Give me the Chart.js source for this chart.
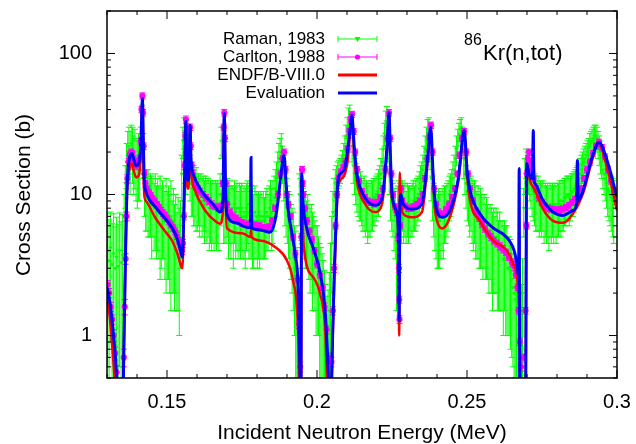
<!DOCTYPE html>
<html>
<head>
<meta charset="utf-8">
<script src="https://cdn.jsdelivr.net/npm/chart.js@4.4.0/dist/chart.umd.min.js"></script>
<style>
  html, body { margin: 0; padding: 0; background: #fff; }
</style>
</head>
<body>
<canvas id="xs" width="636" height="444"></canvas>
<script>
// 86Kr total cross section, 0.13 - 0.3 MeV

const xTicks = [0.15, 0.2, 0.25, 0.3];
const yTicks = [1, 10, 100];
const legendLabels = ["Raman, 1983", "Carlton, 1988", "ENDF/B-VIII.0", "Evaluation"];

// Evaluation (blue)
const evalE = [
  0.1300, 0.1310, 0.1320, 0.1328, 0.1334, 0.1338, 0.1352, 0.1357, 0.1362, 0.1366, 0.1370, 0.1376, 0.1383, 0.1390, 0.1397, 0.1405,
  0.1411, 0.1415, 0.1418, 0.1421, 0.1424, 0.1430, 0.1440, 0.1460, 0.1490, 0.1517, 0.1535, 0.1545, 0.1551, 0.1555, 0.1559, 0.1563,
  0.1566, 0.1570, 0.1574, 0.1577, 0.1580, 0.1590, 0.1610, 0.1627, 0.1660, 0.1677, 0.1686, 0.1691, 0.1695, 0.1700, 0.1730, 0.1760,
  0.1778, 0.1780, 0.1782, 0.1810, 0.1843, 0.1860, 0.1870, 0.1880, 0.1890, 0.1897, 0.1903, 0.1915, 0.1927, 0.1937, 0.1943, 0.1946,
  0.1949, 0.1953, 0.1967, 0.1987, 0.2010, 0.2027, 0.2037, 0.2042, 0.2048, 0.2052, 0.2058, 0.2065, 0.2070, 0.2080, 0.2093, 0.2103,
  0.2111, 0.2116, 0.2124, 0.2133, 0.2160, 0.2193, 0.2217, 0.2233, 0.2240, 0.2245, 0.2250, 0.2267, 0.2271, 0.2274, 0.2276, 0.2280,
  0.2287, 0.2317, 0.2350, 0.2367, 0.2379, 0.2387, 0.2393, 0.2417, 0.2443, 0.2470, 0.2491, 0.2500, 0.2510, 0.2543, 0.2587, 0.2633,
  0.2660, 0.2668, 0.2672, 0.2674, 0.2676, 0.2695, 0.2699, 0.2707, 0.2714, 0.2718, 0.2721, 0.2723, 0.2727, 0.2753, 0.2787, 0.2820,
  0.2853, 0.2865, 0.2868, 0.2871, 0.2887, 0.2917, 0.2940, 0.2967, 0.3000
];
const evalXS = [
  2.2, 1.7, 1.1, 0.7, 0.45, 0.3, 0.3, 1.0, 4, 10, 15, 18.5, 19.5, 17.5, 16, 16.5,
  20, 32, 48, 25, 13, 10.5, 9.3, 8.2, 6.9, 5.8, 4.8, 4.0, 3.6, 6, 15, 33,
  15, 12.6, 16, 31, 18, 13.5, 11, 9.8, 8.2, 7.5, 9, 37.5, 12, 7.2, 6.3, 5.9,
  5.8, 18.3, 5.8, 5.6, 5.4, 6.5, 9, 14, 18.9, 12, 8.1, 5.5, 3.8, 2.2, 0.59, 0.3,
  14.1, 9, 5.6, 4.2, 2.8, 1.5, 0.6, 0.3, 0.4, 1.0, 3, 8, 12.6, 14.2, 15.5, 21.6,
  30, 36.5, 22, 14.1, 9.5, 8.4, 9.5, 21.6, 38, 18, 10.2, 7.3, 5.5, 1.28, 8, 10,
  8.6, 7.9, 8.6, 16.6, 30, 14, 9.1, 6.9, 7.7, 12.6, 28.4, 15, 10.7, 7.3, 5.8, 4.95,
  3.8, 3.0, 2.6, 15.3, 0.3, 0.3, 16.6, 14, 13, 13.5, 28.4, 13, 11.9, 9.1, 7.5, 7.1,
  7.7, 8.5, 17.4, 9, 10.7, 18.3, 23.4, 17.4, 9.5
];

// ENDF/B-VIII.0 (red)
const endfE = [
  0.1300, 0.1310, 0.1318, 0.1325, 0.1330, 0.1352, 0.1357, 0.1362, 0.1366, 0.1370, 0.1376, 0.1383, 0.1390, 0.1397, 0.1405, 0.1411,
  0.1415, 0.1418, 0.1421, 0.1424, 0.1430, 0.1460, 0.1490, 0.1517, 0.1535, 0.1545, 0.1551, 0.1555, 0.1559, 0.1563, 0.1566, 0.1570,
  0.1574, 0.1577, 0.1580, 0.1593, 0.1627, 0.1660, 0.1677, 0.1686, 0.1691, 0.1695, 0.1700, 0.1753, 0.1778, 0.1780, 0.1782, 0.1810,
  0.1867, 0.1900, 0.1920, 0.1937, 0.1942, 0.1947, 0.1949, 0.1955, 0.1987, 0.2010, 0.2027, 0.2035, 0.2040, 0.2047, 0.2052, 0.2058,
  0.2065, 0.2070, 0.2080, 0.2093, 0.2103, 0.2116, 0.2124, 0.2133, 0.2160, 0.2193, 0.2217, 0.2233, 0.2240, 0.2245, 0.2250, 0.2267,
  0.2271, 0.2274, 0.2276, 0.2280, 0.2287, 0.2317, 0.2350, 0.2367, 0.2379, 0.2387, 0.2393, 0.2400, 0.2417, 0.2443, 0.2470, 0.2491,
  0.2500, 0.2510, 0.2543, 0.2587, 0.2633, 0.2653, 0.2670, 0.2677, 0.2680, 0.2695, 0.2699, 0.2710, 0.2727, 0.2753, 0.2787, 0.2820,
  0.2853, 0.2887, 0.2917, 0.2937, 0.2967, 0.3000
];
const endfXS = [
  1.86, 1.3, 0.8, 0.5, 0.3, 0.3, 1.0, 4, 9, 13, 15.5, 16.6, 14.5, 13.2, 13.5, 17,
  30, 46, 20, 10, 9.0, 6.9, 5.6, 4.7, 3.8, 3.2, 3.0, 5, 14, 33, 13, 11,
  14, 31, 16, 10.7, 7.7, 6.5, 6.2, 7.5, 37, 10, 5.75, 5.3, 5.0, 5.6, 5.0, 4.72,
  4.14, 3.4, 2.45, 1.08, 0.3, 0.3, 13, 4.5, 2.6, 1.98, 1.14, 0.4, 0.3, 0.35, 0.9, 2.6,
  7, 11.2, 12.8, 14, 18, 34.5, 20, 12.5, 8.6, 7.5, 8.6, 20, 36, 16, 9.5, 7.0,
  5, 1.0, 14.3, 9, 7.3, 6.9, 7.5, 15.5, 28.4, 13, 8, 6.5, 5.75, 6.9, 12, 27,
  14, 9.1, 6.5, 4.72, 4.0, 3.24, 2.2, 0.8, 0.3, 0.3, 16.6, 12.5, 10.7, 7.9, 6.5, 6.3,
  7.3, 10.2, 17.5, 23.4, 15.5, 7.7
];

// Raman, 1983 (green, with errors)
const ramanE = [
  0.1302, 0.1307, 0.1312, 0.1317, 0.1322, 0.1327, 0.1332, 0.1337, 0.1342, 0.1347, 0.1352,
  0.1357, 0.1361, 0.1365, 0.1369, 0.1373, 0.1377, 0.1381, 0.1385, 0.1389, 0.1393, 0.1397, 0.1401, 0.1405, 0.1409, 0.1413, 0.1417, 0.1421,
  0.1425, 0.1429, 0.1433, 0.1437, 0.1441, 0.1445, 0.1449, 0.1453, 0.1457, 0.1461, 0.1465, 0.1469, 0.1473, 0.1477, 0.1481, 0.1485,
  0.1489, 0.1493, 0.1497, 0.1501, 0.1505, 0.1509, 0.1513, 0.1517, 0.1521, 0.1525, 0.1529, 0.1533, 0.1537, 0.1541, 0.1545, 0.1549,
  0.1553, 0.1557, 0.1560, 0.1563, 0.1567, 0.1570, 0.1574, 0.1577, 0.1581, 0.1585,
  0.1589, 0.1593, 0.1597, 0.1601, 0.1605, 0.1609, 0.1613, 0.1617, 0.1621, 0.1625, 0.1629, 0.1633, 0.1637, 0.1641,
  0.1645, 0.1649, 0.1653, 0.1657, 0.1661, 0.1665, 0.1669, 0.1673, 0.1677, 0.1681, 0.1685, 0.1689, 0.1693, 0.1697,
  0.1701, 0.1705, 0.1709, 0.1713, 0.1717, 0.1721, 0.1725, 0.1729, 0.1733, 0.1737, 0.1741, 0.1745, 0.1749, 0.1753, 0.1757, 0.1761,
  0.1765, 0.1769, 0.1773, 0.1777, 0.1781, 0.1785, 0.1789, 0.1793, 0.1797, 0.1801, 0.1805, 0.1809, 0.1813, 0.1817, 0.1821, 0.1825,
  0.1829, 0.1833, 0.1837, 0.1841, 0.1845, 0.1849, 0.1853,
  0.1857, 0.1861, 0.1865, 0.1869, 0.1873, 0.1877, 0.1881, 0.1885, 0.1889, 0.1893, 0.1897, 0.1901, 0.1905, 0.1909, 0.1913, 0.1917,
  0.1921, 0.1925, 0.1929, 0.1933, 0.1937, 0.1941, 0.1945, 0.1949, 0.1953, 0.1957,
  0.1961, 0.1965, 0.1969, 0.1973, 0.1977, 0.1981, 0.1985, 0.1989, 0.1993, 0.1997, 0.2001, 0.2005, 0.2009, 0.2013, 0.2017, 0.2021,
  0.2025, 0.2029, 0.2033, 0.2037, 0.2041, 0.2045, 0.2049, 0.2053, 0.2057, 0.2061, 0.2065, 0.2069,
  0.2073, 0.2077, 0.2081, 0.2085, 0.2089, 0.2093, 0.2097, 0.2101, 0.2105, 0.2109, 0.2113, 0.2117, 0.2121, 0.2125, 0.2129, 0.2133,
  0.2137, 0.2141, 0.2145, 0.2149, 0.2153, 0.2157, 0.2161, 0.2165, 0.2169, 0.2173, 0.2177, 0.2181, 0.2185, 0.2189, 0.2193, 0.2197,
  0.2201, 0.2205, 0.2209, 0.2213, 0.2217, 0.2221, 0.2225, 0.2229, 0.2233, 0.2237, 0.2241, 0.2245, 0.2249, 0.2253, 0.2257, 0.2261,
  0.2265, 0.2269, 0.2273, 0.2277, 0.2281,
  0.2285, 0.2289, 0.2293, 0.2297, 0.2301, 0.2305, 0.2309, 0.2313, 0.2317, 0.2321, 0.2325, 0.2329, 0.2333, 0.2337, 0.2341, 0.2345,
  0.2349, 0.2353,
  0.2357, 0.2361, 0.2365, 0.2369, 0.2373, 0.2377, 0.2381, 0.2385, 0.2389, 0.2393, 0.2397,
  0.2401, 0.2405, 0.2409, 0.2413, 0.2417, 0.2421, 0.2425, 0.2429, 0.2433, 0.2437, 0.2441, 0.2445, 0.2449, 0.2453, 0.2457, 0.2461,
  0.2465, 0.2469, 0.2473, 0.2477, 0.2481, 0.2485, 0.2489, 0.2493, 0.2497, 0.2501, 0.2505, 0.2509,
  0.2513, 0.2517, 0.2521, 0.2525, 0.2529, 0.2533, 0.2537, 0.2541, 0.2545, 0.2549, 0.2553, 0.2557, 0.2561, 0.2565, 0.2569, 0.2573,
  0.2577, 0.2581, 0.2585, 0.2589, 0.2593, 0.2597, 0.2601, 0.2605, 0.2609, 0.2613, 0.2617, 0.2621, 0.2625, 0.2629, 0.2633, 0.2637,
  0.2641, 0.2645, 0.2649, 0.2653, 0.2657, 0.2661, 0.2665, 0.2669, 0.2673, 0.2677, 0.2681, 0.2685, 0.2689, 0.2693, 0.2697,
  0.2701, 0.2705, 0.2709, 0.2713, 0.2717, 0.2721, 0.2725, 0.2729, 0.2733, 0.2737, 0.2741, 0.2745, 0.2749, 0.2753, 0.2757, 0.2761,
  0.2765, 0.2769, 0.2773, 0.2777, 0.2781, 0.2785, 0.2789, 0.2793, 0.2797, 0.2801, 0.2805, 0.2809, 0.2813, 0.2817, 0.2821, 0.2825,
  0.2829, 0.2833, 0.2837, 0.2841, 0.2845, 0.2849, 0.2853, 0.2857, 0.2861, 0.2865, 0.2869, 0.2873, 0.2877, 0.2881, 0.2885, 0.2889,
  0.2893, 0.2897, 0.2901, 0.2905, 0.2909, 0.2913, 0.2917, 0.2921, 0.2925, 0.2929, 0.2933, 0.2937, 0.2941, 0.2945, 0.2949, 0.2953,
  0.2957, 0.2961, 0.2965, 0.2969, 0.2973, 0.2977, 0.2981, 0.2985, 0.2989, 0.2993, 0.2997
];
const ramanXS = [
  4.0, 3.4, 4.2, 3.2, 3.8, 3.0, 3.6, 3.1, 4.0, 3.3, 3.7,
  7, 12, 17, 20, 22, 19, 23, 21, 18, 20, 17, 16, 18, 17, 22, 35, 20,
  11, 10, 9.5, 10, 9, 9.5, 8.5, 9, 8, 9, 7.5, 8.5, 7.5, 8,
  7, 8, 7.5, 6.5, 7.5, 6.5, 7, 6, 7, 5.5, 6.5, 5, 6, 4.5, 5.5, 4.5,
  6, 14, 24, 28, 17, 15, 19, 25, 17, 14,
  12, 11, 11, 10, 10.5, 9.5, 10, 9, 10, 9, 9.5, 8.5, 9.5, 8.5,
  9, 8, 8.5, 8, 8.5, 8, 8.5, 8, 8.5, 8, 10, 24, 14, 8.5,
  8.5, 8, 9, 7.5, 8.5, 7.5, 8, 7, 8.5, 7.5, 8, 7, 8, 7.5, 8, 7,
  7.5, 7, 8, 8.5, 7.5, 7, 7.5, 7, 6.5, 7.5, 7, 6.5, 7, 6.5, 7, 6.5,
  7, 6.5, 7, 7.5, 7, 8, 9,
  7.5, 8.5, 9.5, 11, 13, 15, 18, 20, 22, 17, 13, 10, 9, 8, 7, 6.5,
  5.5, 5, 4.5, 3.5, 3, 2.2, 1.5, 10, 9, 8,
  7.5, 7, 6.5, 6, 6.5, 5.5, 5, 5.5, 4.5, 4.5, 4, 3.5, 3.5, 3, 2.5, 2.2,
  2, 1.8, 1.5, 1.2, 1.0, 1.1, 1.5, 2.5, 4.5, 7.5, 10, 12,
  13, 14, 14.5, 15, 16, 17, 19, 22, 26, 30, 35, 37, 30, 22, 16, 14,
  12.5, 11.5, 11, 10, 10.5, 9.5, 9, 9.5, 8.5, 9, 8, 8.5, 8.5, 9, 9, 9.5,
  9.5, 10, 10.5, 11, 12, 14, 17, 21, 27, 33, 36, 22, 14, 10.5, 9, 8.5,
  7.5, 7, 4, 8, 9,
  8.5, 8, 9, 8, 8.5, 7.5, 8.5, 8, 8.5, 8, 8.5, 9, 8.5, 9, 9.5, 10,
  11, 12,
  13, 15, 18, 21, 25, 29, 30, 20, 13, 10, 8.5,
  7.5, 7, 6.5, 7, 6.5, 7, 7.5, 7, 8, 8, 8.5, 9, 10, 10.5, 11.5, 13,
  15, 18, 21, 24, 27, 29, 30, 25, 18, 14, 12, 10.5,
  10, 9, 9.5, 8.5, 8, 8.5, 7.5, 7, 7.5, 6.5, 7, 6.5, 6, 6.5, 5.5, 6,
  5.5, 5, 5.5, 5, 4.5, 5, 4.5, 5, 4.5, 4, 4.5, 4, 4, 3.5, 4, 3.5,
  3.5, 3, 3, 2.8, 2.5, 2.2, 2, 1.8, 1.5, 1.2, 1, 1.1, 1.3, 2, 8,
  14, 17, 16, 14, 13, 12, 11, 10.5, 10, 9.5, 9, 9.5, 8.5, 9, 8.5, 9,
  8, 8.5, 8, 8.5, 7.5, 8.5, 8, 8.5, 8, 8.5, 8, 8.5, 8.5, 9, 8.5, 9,
  9, 9.5, 9.5, 10, 10, 9.5, 10, 10.5, 10.5, 11, 11.5, 12, 12.5, 13, 14, 15,
  16, 17, 18, 19, 20, 21, 22, 23, 24, 25, 26, 26, 25, 23, 21, 19,
  17, 15, 14, 13, 12, 11, 10.5, 10, 9.5, 9, 8.5
];
const ramanErr = [
  3.4, 3.2, 3.3, 3.0, 3.5, 2.9, 3.3, 3.0, 3.4, 3.1, 3.5,
  3, 4, 6, 8, 8, 9, 8, 9, 8, 9, 8, 8, 9, 8, 8, 8, 7,
  4, 4.5, 4, 5, 4, 4.5, 5, 4, 4, 5, 4, 4.5, 4, 5.5,
  4, 4.5, 4, 4, 5.5, 4, 4.5, 4, 5.5, 3.5, 4.5, 3.5, 4, 3, 4, 3.5,
  3, 5, 6, 7, 5, 5, 5, 6, 5, 5,
  5, 4, 5, 4, 5, 4, 4, 4, 4, 4, 4, 4, 4, 4,
  4, 4, 4, 4, 4, 4, 4, 4, 4, 4, 4, 6, 5, 4,
  4, 3.5, 4, 4, 4, 4, 3.5, 4, 4, 4, 4, 3.5, 4, 4, 4, 3.5,
  4, 4, 4, 4, 4, 3.5, 4, 4, 3.5, 4, 3.5, 3.5, 3.5, 3.5, 3.5, 3,
  3.5, 3, 3.5, 3.5, 3, 3.5, 3.5,
  3.5, 4, 4, 4, 4, 5, 5, 5, 5, 5, 4, 4, 4, 3.5, 3.5, 3.5,
  3, 3, 3, 2.5, 2.5, 2, 1.5, 4, 4, 3.5,
  3.5, 3.5, 3.5, 3, 3.5, 3, 3, 3, 3, 2.5, 2.5, 2.5, 2.5, 2, 2, 2,
  1.8, 1.6, 1.4, 1.1, 0.9, 1, 1.3, 2, 2.5, 3, 3, 3,
  3, 3, 3, 3, 3, 3.5, 4, 4, 5, 5, 6, 6, 5, 5, 4, 4,
  4, 4, 4, 3.5, 4, 3.5, 3.5, 4, 3.5, 3.5, 3.5, 3.5, 3.5, 3.5, 3.5, 3.5,
  3.5, 3.5, 3.5, 4, 4, 4, 4, 5, 5, 6, 6, 5, 4, 4, 3.5, 3.5,
  3.5, 3.5, 2.5, 3.5, 3.5,
  3.5, 3.5, 3.5, 3.5, 3.5, 3, 3.5, 3.5, 3, 3, 3.5, 3.5, 3, 3.5, 3.5, 3.5,
  3.5, 4,
  4, 4, 4, 5, 5, 5, 5, 5, 4, 3.5, 3.5,
  3.5, 3.5, 3.5, 4, 3.5, 3.5, 3.5, 3.5, 3.5, 3.5, 3.5, 3.5, 3.5, 3.5, 3.5, 4,
  4, 4, 5, 5, 5, 5, 5, 5, 5, 4, 4, 4,
  4, 4, 4, 4, 4, 4, 4, 3.5, 4, 3.5, 4, 3.5, 3.5, 3.5, 3, 3.5,
  3, 3, 3, 3, 3, 3, 2.5, 3, 3, 2.5, 3, 2.5, 2.5, 2.5, 2.5, 2.5,
  2.5, 2, 2, 2, 1.8, 1.6, 1.5, 1.3, 1.2, 1, 0.8, 0.9, 1, 1.5, 3,
  4, 4, 4, 4, 4, 4, 4, 4, 4, 4, 3.5, 4, 3.5, 3.5, 3.5, 3.5,
  3.5, 3.5, 3.5, 3.5, 3.5, 3.5, 3.5, 3.5, 3.5, 3.5, 3.5, 3.5, 3.5, 3.5, 3.5, 3.5,
  3.5, 3.5, 3.5, 3.5, 3.5, 3.5, 3.5, 3.5, 3.5, 3.5, 3.5, 3.5, 3.5, 3.5, 4, 4,
  4, 4, 4, 4, 4, 4, 5, 5, 5, 5, 5, 5, 5, 5, 5, 5,
  4, 4, 4, 4, 4, 4, 4, 4, 4, 4, 4
];

// Carlton, 1988 (magenta, with errors)
const carltonE = [
  0.1302, 0.1307, 0.1312, 0.1317, 0.1322, 0.1327, 0.1332,
  0.1356, 0.1359, 0.1362, 0.1365, 0.1368, 0.1372, 0.1376, 0.1380, 0.1384, 0.1388, 0.1393, 0.1398, 0.1403, 0.1408, 0.1412, 0.1415, 0.1418, 0.1420, 0.1422, 0.1425,
  0.1428, 0.1433, 0.1440, 0.1447, 0.1453, 0.1460, 0.1467, 0.1473, 0.1480, 0.1487, 0.1493, 0.1500, 0.1507, 0.1513, 0.1520, 0.1527, 0.1533, 0.1540, 0.1545, 0.1550,
  0.1553, 0.1556, 0.1559, 0.1561, 0.1563, 0.1565, 0.1568, 0.1571, 0.1574, 0.1577, 0.1579, 0.1582, 0.1586,
  0.1590, 0.1597, 0.1603, 0.1610, 0.1620, 0.1630, 0.1640, 0.1650, 0.1660, 0.1670, 0.1680, 0.1686, 0.1689, 0.1691, 0.1693, 0.1696, 0.1700,
  0.1710, 0.1720, 0.1730, 0.1740, 0.1750, 0.1760, 0.1770, 0.1780, 0.1790, 0.1800, 0.1810, 0.1820, 0.1830, 0.1840, 0.1850,
  0.1860, 0.1870, 0.1878, 0.1885, 0.1890, 0.1895, 0.1900, 0.1905, 0.1912, 0.1920, 0.1928, 0.1935, 0.1940, 0.1944,
  0.1948, 0.1950, 0.1952, 0.1955, 0.1960, 0.1967, 0.1975, 0.1983, 0.1992, 0.2000, 0.2010, 0.2018, 0.2025, 0.2032, 0.2038, 0.2048,
  0.2053, 0.2057, 0.2062, 0.2067, 0.2072, 0.2080, 0.2088, 0.2095, 0.2102, 0.2108, 0.2113, 0.2117, 0.2122, 0.2127, 0.2133,
  0.2140, 0.2150, 0.2160, 0.2170, 0.2180, 0.2190, 0.2200, 0.2210, 0.2220, 0.2228, 0.2235, 0.2240, 0.2244, 0.2248, 0.2253, 0.2260, 0.2266, 0.2271, 0.2273, 0.2274, 0.2275, 0.2277, 0.2280, 0.2285,
  0.2293, 0.2303, 0.2313, 0.2323, 0.2333, 0.2343, 0.2352, 0.2360, 0.2368, 0.2375, 0.2380, 0.2385, 0.2390,
  0.2397, 0.2405, 0.2413, 0.2420, 0.2430, 0.2440, 0.2450, 0.2460, 0.2468, 0.2475, 0.2483, 0.2490, 0.2497, 0.2503, 0.2510,
  0.2520, 0.2530, 0.2540, 0.2550, 0.2560, 0.2570, 0.2580, 0.2590, 0.2600, 0.2610, 0.2620, 0.2630, 0.2640, 0.2650, 0.2657, 0.2663, 0.2668, 0.2672, 0.2676, 0.2680, 0.2690, 0.2695,
  0.2698, 0.2700, 0.2703, 0.2707, 0.2712, 0.2717, 0.2722, 0.2730, 0.2740, 0.2750, 0.2760, 0.2770, 0.2780, 0.2790, 0.2800, 0.2810, 0.2820, 0.2830,
  0.2840, 0.2850, 0.2860, 0.2870, 0.2880, 0.2890, 0.2900, 0.2910, 0.2920, 0.2930, 0.2940, 0.2950, 0.2960, 0.2970, 0.2980, 0.2990, 0.3000
];
const carltonXS = [
  2.3, 2.0, 1.6, 1.3, 1.0, 0.75, 0.55,
  0.7, 1.6, 3.5, 7, 13, 17, 19, 20, 19.5, 18, 17, 16, 16.5, 18, 24, 40, 50, 38, 22, 14,
  12, 11, 10.3, 9.8, 9.3, 8.9, 8.5, 8.1, 7.7, 7.4, 7.1, 6.8, 6.4, 6.1, 5.8, 5.5, 5.1, 4.7, 4.3, 4.0,
  4.5, 7, 16, 26, 34, 20, 13.5, 14, 18, 30, 22, 16, 14,
  12.5, 11.5, 11, 10.5, 10, 9.5, 9, 8.5, 8.2, 8, 8.3, 12, 30, 38, 25, 12, 8.5,
  7.5, 7, 6.8, 6.5, 6.3, 6.2, 6.1, 6.3, 6.1, 6, 6, 5.8, 5.8, 5.9, 6.5,
  8, 10, 14, 18, 20, 15, 10, 8.5, 7, 5, 3.8, 2.5, 1.2, 0.6,
  5, 15, 12, 10, 8, 6.5, 5.5, 4.8, 4, 3.2, 2.7, 2.2, 1.6, 1.1, 0.7, 0.65,
  1.5, 3, 6, 10, 13, 14.5, 15.5, 17, 21, 28, 34, 37, 28, 20, 15,
  12.5, 10.5, 9.5, 9, 8.8, 8.6, 8.8, 9.5, 11, 15, 25, 38, 25, 14, 10, 8.2, 7.5, 5, 3, 1.8, 1.3, 6, 11, 9,
  8.3, 8, 8, 8.2, 8.5, 9, 10, 13, 18, 26, 31, 20, 11,
  8.5, 7.5, 7.2, 7.3, 7.8, 8.5, 9.5, 11, 14, 19, 25, 28, 20, 14, 11,
  9, 7.6, 6.8, 6.2, 5.7, 5.3, 5.0, 4.7, 4.5, 4.3, 4.1, 3.9, 3.6, 3.3, 3.1, 2.7, 2.2, 1.5, 0.9, 0.6, 0.7, 1.5,
  6, 14, 18, 20, 17, 15, 13, 11, 9.5, 8.8, 8.3, 8, 7.9, 7.8, 7.7, 7.8, 7.9, 8.1,
  8.4, 8.8, 9.3, 10, 11, 13, 15, 17, 19.5, 22, 23.5, 21.5, 18.5, 15, 12.5, 10.5, 9
];
const carltonErr = [
  0.15, 0.15, 0.12, 0.1, 0.1, 0.08, 0.06,
  0.1, 0.2, 0.3, 0.5, 0.8, 1, 1, 1, 1, 1, 1, 1, 1, 1, 1.2, 2, 2.5, 2, 1.2, 0.8,
  0.6, 0.55, 0.5, 0.5, 0.45, 0.45, 0.4, 0.4, 0.4, 0.4, 0.35, 0.35, 0.3, 0.3, 0.3, 0.3, 0.3, 0.25, 0.25, 0.25,
  0.3, 0.4, 1, 1.5, 2, 1.2, 0.8, 0.8, 1, 1.6, 1.2, 0.9, 0.8,
  0.7, 0.6, 0.6, 0.6, 0.5, 0.5, 0.5, 0.5, 0.4, 0.4, 0.4, 0.6, 1.5, 2, 1.3, 0.6, 0.4,
  0.4, 0.4, 0.35, 0.35, 0.35, 0.3, 0.3, 0.3, 0.3, 0.3, 0.3, 0.3, 0.3, 0.3, 0.35,
  0.4, 0.5, 0.7, 0.9, 1, 0.8, 0.5, 0.45, 0.35, 0.25, 0.2, 0.15, 0.08, 0.05,
  0.3, 0.8, 0.6, 0.5, 0.4, 0.35, 0.3, 0.25, 0.2, 0.18, 0.15, 0.12, 0.1, 0.07, 0.05, 0.05,
  0.1, 0.2, 0.3, 0.5, 0.7, 0.7, 0.8, 0.9, 1, 1.4, 1.7, 1.9, 1.4, 1, 0.8,
  0.6, 0.5, 0.5, 0.45, 0.45, 0.45, 0.45, 0.5, 0.55, 0.8, 1.3, 2, 1.3, 0.7, 0.5, 0.4, 0.4, 0.3, 0.2, 0.1, 0.08, 0.3, 0.6, 0.45,
  0.4, 0.4, 0.4, 0.4, 0.4, 0.45, 0.5, 0.65, 0.9, 1.3, 1.6, 1, 0.55,
  0.45, 0.4, 0.35, 0.35, 0.4, 0.45, 0.5, 0.55, 0.7, 1, 1.3, 1.4, 1, 0.7, 0.55,
  0.45, 0.4, 0.35, 0.35, 0.3, 0.3, 0.3, 0.25, 0.25, 0.25, 0.25, 0.2, 0.2, 0.2, 0.2, 0.15, 0.12, 0.08, 0.05, 0.04, 0.04, 0.08,
  0.3, 0.7, 0.9, 1, 0.9, 0.8, 0.7, 0.55, 0.5, 0.45, 0.4, 0.4, 0.4, 0.4, 0.4, 0.4, 0.4, 0.4,
  0.4, 0.45, 0.45, 0.5, 0.55, 0.65, 0.75, 0.85, 1, 1.1, 1.2, 1.1, 0.9, 0.75, 0.65, 0.55, 0.45
];

const FONT = "'Liberation Sans', Arial, Helvetica, sans-serif";
const GREEN = "#00ff00", MAGENTA = "#ff00ff", RED = "#ff0000", BLUE = "#0000ff";

const pts = (xs, ys) => xs.map((x, i) => ({x: x, y: ys[i]}));

// error bars drawn under each dataset's own markers
const errorBars = {
    id: "errorBars",
    beforeDatasetDraw(chart, args) {
        const ds = chart.data.datasets[args.index];
        if (!ds.errors) return;
        const {ctx, chartArea: a, scales: {x, y}} = chart;
        ctx.save();
        ctx.beginPath();
        ctx.rect(a.left, a.top, a.width, a.height);
        ctx.clip();
        ctx.strokeStyle = ds.borderColor;
        ctx.lineWidth = 1;
        ctx.beginPath();
        ds.data.forEach((p, i) => {
            const e = ds.errors[i];
            const px = x.getPixelForValue(p.x);
            const top = y.getPixelForValue(p.y + e);
            const bot = y.getPixelForValue(Math.max(p.y - e, 0.05));
            ctx.moveTo(px, top); ctx.lineTo(px, bot);
            ctx.moveTo(px - 3, top); ctx.lineTo(px + 3, top);
            ctx.moveTo(px - 3, bot); ctx.lineTo(px + 3, bot);
        });
        ctx.stroke();
        ctx.restore();
    },
};

// gnuplot-like frame, inward ticks, titles, legend
const frame = {
    id: "frame",
    afterDatasetsDraw(chart) {
        const {ctx, chartArea: a, scales: {x, y}} = chart;
        ctx.save();
        ctx.strokeStyle = "#000";
        ctx.lineWidth = 1;
        ctx.beginPath();
        for (let k = 13; k <= 30; k++) {
            const v = k / 100;
            const px = x.getPixelForValue(v);
            const len = xTicks.includes(v) ? 8 : 4;
            ctx.moveTo(px, a.bottom); ctx.lineTo(px, a.bottom - len);
            ctx.moveTo(px, a.top); ctx.lineTo(px, a.top + len);
        }
        [0.1, 1, 10, 100].forEach(d => {
            for (let m = 1; m <= 9; m++) {
                const v = m * d;
                if (v < y.min * 0.999 || v > y.max * 1.001) continue;
                const py = y.getPixelForValue(v);
                const len = m === 1 ? 8 : 4;
                ctx.moveTo(a.left, py); ctx.lineTo(a.left + len, py);
                ctx.moveTo(a.right, py); ctx.lineTo(a.right - len, py);
            }
        });
        ctx.stroke();
        ctx.lineWidth = 1.5;
        ctx.strokeRect(a.left, a.top, a.width, a.height);

        // axis titles
        ctx.fillStyle = "#000";
        ctx.font = "21px " + FONT;
        ctx.textAlign = "center";
        ctx.textBaseline = "middle";
        ctx.fillText("Incident Neutron Energy (MeV)", 362, 433);
        ctx.save();
        ctx.translate(24, 195);
        ctx.rotate(-Math.PI / 2);
        ctx.fillText("Cross Section (b)", 0, 0);
        ctx.restore();

        // reaction label
        ctx.textAlign = "left";
        ctx.textBaseline = "alphabetic";
        ctx.font = "16px " + FONT;
        ctx.fillText("86", 464, 45);
        ctx.font = "22px " + FONT;
        ctx.fillText("Kr(n,tot)", 483, 60);

        // legend
        const colors = [GREEN, MAGENTA, RED, BLUE];
        ctx.font = "17px " + FONT;
        legendLabels.forEach((lab, i) => {
            const ly = 39 + i * 18;
            ctx.fillStyle = "#000";
            ctx.textAlign = "right";
            ctx.textBaseline = "middle";
            ctx.fillText(lab, 325, ly);
            ctx.strokeStyle = colors[i];
            ctx.fillStyle = colors[i];
            ctx.lineWidth = i < 2 ? 1 : 3;
            ctx.beginPath();
            ctx.moveTo(338, ly); ctx.lineTo(377, ly);
            if (i < 2) {
                ctx.moveTo(338, ly - 3); ctx.lineTo(338, ly + 3);
                ctx.moveTo(377, ly - 3); ctx.lineTo(377, ly + 3);
            }
            ctx.stroke();
            if (i === 0) {
                ctx.beginPath();
                ctx.moveTo(354.5, ly - 2); ctx.lineTo(360.5, ly - 2); ctx.lineTo(357.5, ly + 3);
                ctx.closePath(); ctx.fill();
            } else if (i === 1) {
                ctx.beginPath();
                ctx.arc(357.5, ly, 2.6, 0, Math.PI * 2);
                ctx.fill();
            }
        });
        ctx.restore();
    },
};

new Chart(document.getElementById("xs"), {
    type: "line",
    data: {
        datasets: [
            {
                label: legendLabels[0], data: pts(ramanE, ramanXS), errors: ramanErr,
                showLine: false, borderColor: GREEN, backgroundColor: GREEN,
                pointStyle: "triangle", pointRotation: 180, pointRadius: 2.4, pointBorderWidth: 0, order: 4,
            },
            {
                label: legendLabels[1], data: pts(carltonE, carltonXS), errors: carltonErr,
                showLine: false, borderColor: MAGENTA, backgroundColor: MAGENTA,
                pointStyle: "circle", pointRadius: 3.1, pointBorderWidth: 0, order: 3,
            },
            {
                label: legendLabels[2], data: pts(endfE, endfXS),
                borderColor: RED, borderWidth: 2.5, pointRadius: 0,
                cubicInterpolationMode: "monotone", order: 2,
            },
            {
                label: legendLabels[3], data: pts(evalE, evalXS),
                borderColor: BLUE, borderWidth: 3, pointRadius: 0,
                cubicInterpolationMode: "monotone", order: 1,
            },
        ],
    },
    options: {
        responsive: false,
        animation: false,
        devicePixelRatio: 1,
        events: [],
        layout: {padding: {top: 11, right: 19, left: 0, bottom: 0}},
        plugins: {legend: {display: false}, tooltip: {enabled: false}},
        scales: {
            x: {
                type: "linear", min: 0.13, max: 0.3,
                grid: {display: false, drawTicks: false},
                border: {display: false},
                afterBuildTicks: s => { s.ticks = xTicks.map(v => ({value: v})); },
                afterFit: s => { s.height = 66; s.paddingLeft = 0; s.paddingRight = 0; },
                ticks: {
                    color: "#000", padding: 12, maxRotation: 0, autoSkip: false,
                    font: {family: FONT, size: 20},
                    callback: v => String(v),
                },
            },
            y: {
                type: "logarithmic", min: 0.5, max: 200,
                grid: {display: false, drawTicks: false},
                border: {display: false},
                afterBuildTicks: s => { s.ticks = yTicks.map(v => ({value: v})); },
                afterFit: s => { s.width = 107; s.paddingTop = 0; s.paddingBottom = 0; },
                ticks: {
                    color: "#000", padding: 15, autoSkip: false,
                    font: {family: FONT, size: 20},
                    callback: v => String(v),
                },
            },
        },
    },
    plugins: [errorBars, frame],
});
</script>
</body>
</html>
